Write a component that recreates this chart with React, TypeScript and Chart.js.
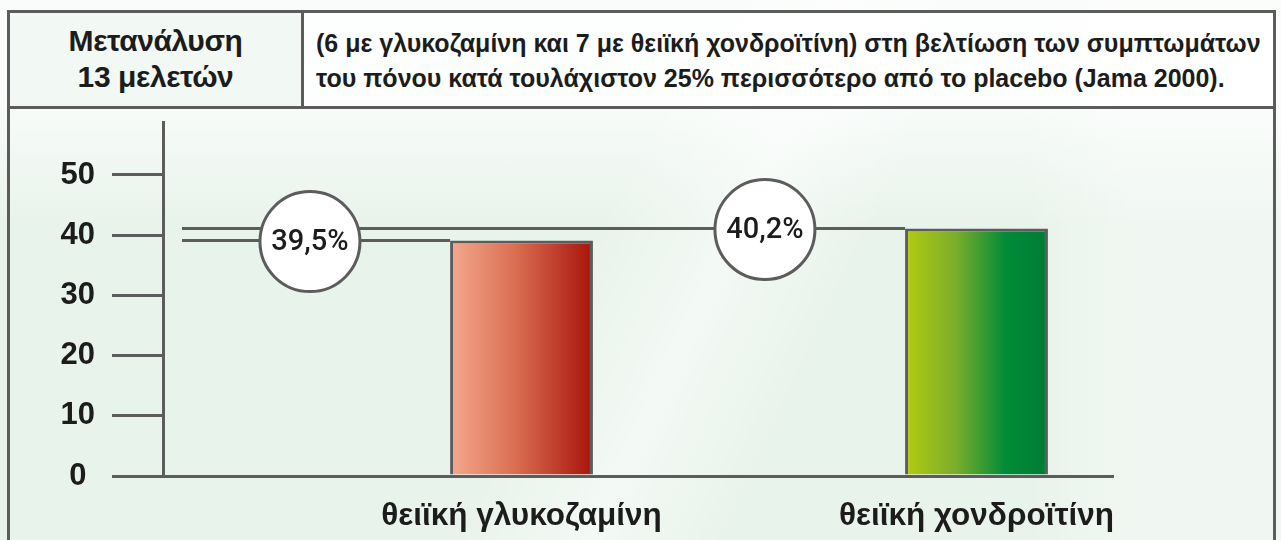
import React, { useEffect, useRef } from 'react';
import { Chart, registerables } from 'chart.js';

Chart.register(...registerables);

// ---- data ----
const CATEGORIES = ['θειϊκή γλυκοζαμίνη', 'θειϊκή χονδροϊτίνη'];
const CATEGORY_POS = [1, 2];
const VALUES = [39.1, 41.1];
const VALUE_LABELS = ['39,5%', '40,2%'];
const Y_TICKS = [0, 10, 20, 30, 40, 50];
const HEADER_LEFT = ['Μετανάλυση', '13 μελετών'];
const HEADER_RIGHT = [
  '(6 με γλυκοζαμίνη και 7 με θειϊκή χονδροϊτίνη) στη βελτίωση των συμπτωμάτων',
  'του πόνου κατά τουλάχιστον 25% περισσότερο από το placebo (Jama 2000).',
];
const BAR_STOPS: [number, string][][] = [
  [[0, '#f4a98e'], [0.45, '#da6f53'], [1, '#a9130b']],
  [[0, '#b3cc10'], [0.35, '#7cae2a'], [0.7, '#018c36'], [1, '#007b37']],
];

// ---- style ----
const LINE = '#5c5c5c';
const TEXT = '#1c1c1c';
const FONT = "'Liberation Sans', Arial, sans-serif";
const LABEL_FONT = "Roboto, 'Liberation Sans', sans-serif";
const Y_MAX = 58.8;
const X_MIN = 0.212;
const X_MAX = 2.3;
const LABEL_SHIFT = 0.465;

const barGradientPlugin = {
  id: 'barGradient',
  beforeDatasetsDraw(chart: any) {
    const ctx = chart.ctx;
    const meta = chart.getDatasetMeta(0);
    meta.data.forEach((bar: any, i: number) => {
      const { x, width } = bar.getProps(['x', 'width'], true);
      const g = ctx.createLinearGradient(x - width / 2, 0, x + width / 2, 0);
      BAR_STOPS[i].forEach(([o, c]) => g.addColorStop(o, c));
      bar.options = { ...bar.options, backgroundColor: g };
    });
  },
};

const leaderPlugin = {
  id: 'leaders',
  afterDatasetsDraw(chart: any) {
    const { ctx, chartArea } = chart;
    const xs = chart.scales.x;
    const meta = chart.getDatasetMeta(0);
    ctx.save();
    ctx.strokeStyle = LINE;
    ctx.lineWidth = 3;
    meta.data.forEach((bar: any) => {
      const { x, y, width } = bar.getProps(['x', 'y', 'width'], true);
      ctx.beginPath();
      ctx.moveTo(chartArea.left + 19, y);
      ctx.lineTo(x - width / 2, y);
      ctx.stroke();
    });
    meta.data.forEach((bar: any, i: number) => {
      const { y } = bar.getProps(['y'], true);
      const cx = xs.getPixelForValue(CATEGORY_POS[i] - LABEL_SHIFT);
      ctx.beginPath();
      ctx.arc(cx, y + 1, 50, 0, Math.PI * 2);
      ctx.fillStyle = '#ffffff';
      ctx.fill();
      ctx.stroke();
      ctx.fillStyle = TEXT;
      ctx.font = `500 29px ${LABEL_FONT}`;
      ctx.textAlign = 'center';
      ctx.textBaseline = 'middle';
      ctx.fillText(VALUE_LABELS[i], cx, y + 2);
    });
    ctx.restore();
  },
};

export default function App() {
  const ref = useRef<HTMLCanvasElement | null>(null);

  useEffect(() => {
    document.body.style.margin = '0';
    const canvas = ref.current;
    if (!canvas) return;
    const chart = new Chart(canvas, {
      type: 'bar',
      data: {
        datasets: [
          {
            data: CATEGORY_POS.map((x, i) => ({ x, y: VALUES[i] })),
            backgroundColor: '#cccccc',
            borderColor: LINE,
            borderWidth: 3,
            borderSkipped: 'bottom',
            categoryPercentage: 1,
            barPercentage: 0.314,
          },
        ],
      },
      options: {
        responsive: false,
        animation: false,
        devicePixelRatio: 1,
        layout: { padding: { left: 0, top: 122, right: 168, bottom: 0 } },
        plugins: { legend: { display: false }, tooltip: { enabled: false } },
        scales: {
          x: {
            type: 'linear',
            offset: false,
            min: X_MIN,
            max: X_MAX,
            afterBuildTicks: (axis: any) => {
              axis.ticks = CATEGORY_POS.map((v) => ({ value: v }));
            },
            afterFit: (axis: any) => {
              axis.height = 64;
            },
            ticks: {
              autoSkip: false,
              maxRotation: 0,
              padding: 13,
              color: TEXT,
              font: { family: FONT, size: 31.5, weight: 'bold' },
              callback: (v: any) => CATEGORIES[CATEGORY_POS.indexOf(Number(v))] ?? '',
            },
            grid: { display: false, offset: false },
            border: { display: true, color: LINE, width: 3 },
          },
          y: {
            min: 0,
            max: Y_MAX,
            afterBuildTicks: (axis: any) => {
              axis.ticks = Y_TICKS.map((v) => ({ value: v }));
            },
            afterFit: (axis: any) => {
              axis.width = 163;
            },
            ticks: {
              crossAlign: 'center',
              padding: 17,
              color: TEXT,
              font: { family: FONT, size: 31, weight: 'bold' },
            },
            grid: {
              drawOnChartArea: false,
              drawTicks: true,
              tickLength: 51,
              tickWidth: 3,
              tickColor: LINE,
              color: LINE,
              lineWidth: 3,
            },
            border: { display: true, color: LINE, width: 3 },
          },
        },
      },
      plugins: [barGradientPlugin, leaderPlugin],
    });
    return () => chart.destroy();
  }, []);

  const headerText: React.CSSProperties = {
    fontFamily: FONT,
    fontWeight: 'bold',
    color: TEXT,
    position: 'absolute',
  };

  return (
    <div
      style={{
        position: 'fixed',
        left: 0,
        top: 0,
        width: 1281,
        height: 540,
        overflow: 'hidden',
        background:
          'linear-gradient(115deg, rgba(255,255,255,0) 46%, rgba(255,255,255,0.5) 55%, rgba(255,255,255,0) 64%), linear-gradient(180deg, rgba(255,255,255,0.75) 18%, rgba(255,255,255,0) 42%), linear-gradient(90deg, rgba(255,255,255,0) 80%, rgba(255,255,255,0.35) 88%), #e8f3eb',
      }}
    >
      <div style={{ position: 'absolute', left: 304, top: 13, width: 969, height: 93, background: 'rgba(255,255,255,0.7)' }} />
      <div style={{ position: 'absolute', left: 10, top: 13, width: 291, height: 93, background: 'rgba(240,246,242,0.8)' }} />
      <div
        style={{
          position: 'absolute',
          left: 7,
          top: 10,
          width: 1269,
          height: 560,
          border: `3px solid ${LINE}`,
          boxSizing: 'border-box',
        }}
      />
      <div style={{ position: 'absolute', left: 7, top: 106, width: 1269, height: 3, background: LINE }} />
      <div style={{ position: 'absolute', left: 301, top: 10, width: 3, height: 97, background: LINE }} />
      <div
        style={{
          ...headerText,
          left: 10,
          top: 23,
          width: 291,
          textAlign: 'center',
          fontSize: 30,
          letterSpacing: '-0.4px',
          lineHeight: '36px',
        }}
      >
        {HEADER_LEFT.map((t, i) => (
          <div key={i}>{t}</div>
        ))}
      </div>
      <div
        style={{
          ...headerText,
          left: 316,
          top: 26,
          fontSize: 25,
          lineHeight: '35px',
          whiteSpace: 'nowrap',
        }}
      >
        {HEADER_RIGHT.map((t, i) => (
          <div key={i}>{t}</div>
        ))}
      </div>
      <canvas
        ref={ref}
        width={1281}
        height={540}
        style={{ position: 'absolute', left: 0, top: 0, width: 1281, height: 540 }}
      />
    </div>
  );
}
